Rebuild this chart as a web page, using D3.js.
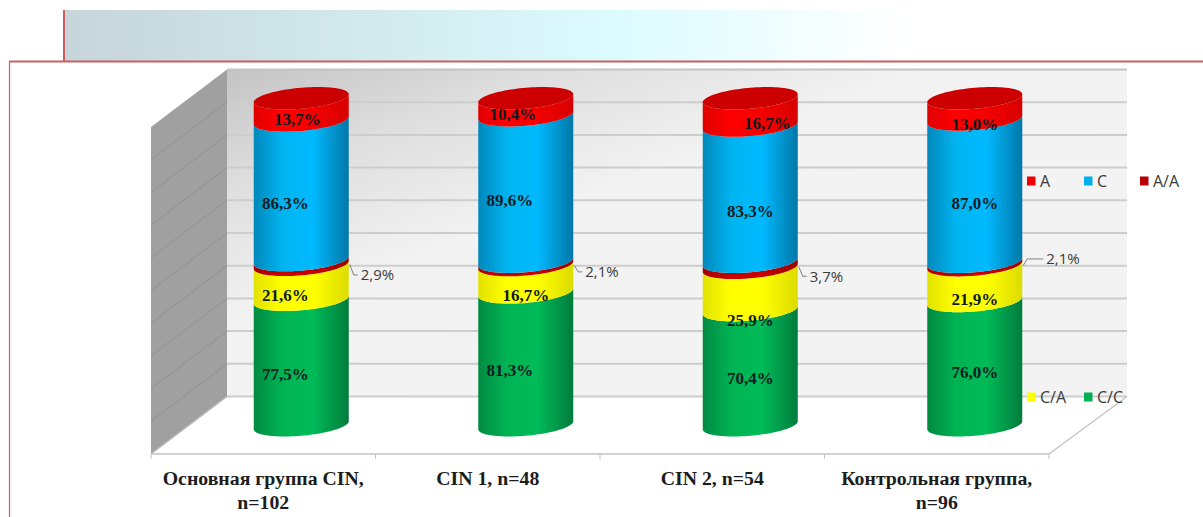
<!DOCTYPE html>
<html lang="ru">
<head>
<meta charset="utf-8">
<title>Генотипы и аллели по группам</title>
<script src="https://cdn.jsdelivr.net/npm/d3@7/dist/d3.min.js"></script>
<style>
html, body { margin: 0; padding: 0; background: #fff; }
svg { display: block; }
</style>
</head>
<body>
<svg id="chart" width="1203" height="517"></svg>
<script>
// Groups along the floor of the chart
const categories = [
  ["Основная группа CIN,", "n=102"],
  ["CIN 1, n=48"],
  ["CIN 2, n=54"],
  ["Контрольная группа,", "n=96"]
];

// Share of each genotype and allele per group, in percent (bottom to top)
const seriesKeys = ["C/C", "C/A", "A/A", "C", "A"];
const valuesCC = [77.5, 81.3, 70.4, 76.0];
const valuesCA = [21.6, 16.7, 25.9, 21.9];
const valuesAA = [2.9, 2.1, 3.7, 2.1];
const valuesC = [86.3, 89.6, 83.3, 87.0];
const valuesA = [13.7, 10.4, 16.7, 13.0];
const gridTicks = [0, .1, .2, .3, .4, .5, .6, .7, .8, .9, 1];

// Hand placement of the value labels relative to the centre of their segment
const nudgeCC = [[-16, 12], [-16, 11], [0, 11], [0, 9.5]];
const nudgeCA = [[-16, 13], [0, 16], [0, 31], [0, 16]];
const nudgeC = [[-16, 13], [-16, 12], [0, 18], [0, 13]];
const nudgeA = [[-4, 10], [-13, 7], [17, 11], [0, 15]];

const rows = categories.map((_, i) => ({
  "C/C": valuesCC[i], "C/A": valuesCA[i], "A/A": valuesAA[i], "C": valuesC[i], "A": valuesA[i]
}));
const stacked = d3.stack().keys(seriesKeys).offset(d3.stackOffsetExpand)(rows);

const svg = d3.select("#chart");
const defs = svg.append("defs");

// Box geometry: front plane, and the depth vector towards the back wall
const frontLeft = 151, frontRight = 1049, frontBottom = 454, frontTop = 127;
const depthX = 76, depthY = -57.5;

const x = d3.scaleBand().domain(d3.range(categories.length)).range([frontLeft, frontRight]);
const yFront = d3.scaleLinear().domain([0, 1]).range([frontBottom, frontTop]);
const yBack = v => yFront(v) + depthY;
// Columns stand half way into the box
const yMid = v => yFront(v) + depthY / 2;
const radiusX = 47.5, capMinor = 10.5, capShear = 4;

const shades = {
  "C/C": ["#008a42", "#00b353", "#00bb58", "#007c3c"],
  "C/A": ["#e2e200", "#ffff00", "#ffff00", "#dcdc00"],
  "A/A": ["#a80000", "#c80000", "#c80000", "#a00000"],
  "C":   ["#0088bb", "#00b4f0", "#00baff", "#0077a8"],
  "A":   ["#e00000", "#ff0000", "#f40000", "#d80000"]
};
seriesKeys.forEach((k, i) => {
  const g = defs.append("linearGradient").attr("id", "shade" + i);
  [0, .3, .62, 1].forEach((o, j) => g.append("stop").attr("offset", o).attr("stop-color", shades[k][j]));
});

const topBand = defs.append("linearGradient").attr("id", "topBand");
[[0, "#c6d5da"], [.3, "#d0e6ea"], [.65, "#dcfbff"], [1, "#ffffff"]].forEach(([o, c]) =>
  topBand.append("stop").attr("offset", o).attr("stop-color", c));

const wallFill = defs.append("linearGradient").attr("id", "wallFill")
  .attr("x1", 0).attr("y1", 0).attr("x2", .6).attr("y2", .6);
[[0, "#c4c4c4"], [.3, "#dedede"], [.65, "#f2f2f2"], [1, "#f3f3f3"]].forEach(([o, c]) =>
  wallFill.append("stop").attr("offset", o).attr("stop-color", c));

// Slide header band and its frame
svg.append("rect").attr("x", 65).attr("y", 10).attr("width", 845).attr("height", 51).attr("fill", "url(#topBand)");
const frame = svg.append("g").attr("stroke", "#c9605f").attr("fill", "none");
frame.append("line").attr("x1", 64).attr("x2", 64).attr("y1", 10).attr("y2", 62).attr("stroke-width", 2);
frame.append("line").attr("x1", 9).attr("x2", 1203).attr("y1", 61.5).attr("y2", 61.5).attr("stroke-width", 2);
frame.append("line").attr("x1", 9.5).attr("x2", 9.5).attr("y1", 62).attr("y2", 517).attr("stroke-width", 1.2);

// Back wall
const wallLeft = frontLeft + depthX, wallRight = frontRight + depthX + 2;
svg.append("rect")
  .attr("x", wallLeft).attr("y", yBack(1))
  .attr("width", wallRight - wallLeft).attr("height", yBack(0) - yBack(1))
  .attr("fill", "url(#wallFill)");

// Side wall
const line = d3.line();
svg.append("path")
  .attr("d", line([
    [frontLeft, yFront(1)], [wallLeft, yBack(1)], [wallLeft, yBack(0)], [frontLeft, yFront(0)]
  ]) + "Z")
  .attr("fill", "#a0a0a0");

// Gridlines run along the side wall and across the back wall
const grid = svg.append("g");
grid.selectAll("line.side").data(gridTicks.slice(0, -1)).join("line").attr("class", "side")
  .attr("x1", frontLeft).attr("x2", wallLeft)
  .attr("y1", d => yFront(d)).attr("y2", d => yBack(d))
  .attr("stroke", "#929292").attr("stroke-width", 1);
grid.selectAll("line.back").data(gridTicks).join("line").attr("class", "back")
  .attr("x1", wallLeft).attr("x2", wallRight)
  .attr("y1", d => yBack(d)).attr("y2", d => yBack(d))
  .attr("stroke", d => d === 1 ? "#c4c4c4" : "#cdcdcd").attr("stroke-width", 2);

// Floor edges and category ticks
const floor = svg.append("g").attr("stroke", "#c2c2c2").attr("fill", "none");
floor.append("line").attr("x1", frontLeft).attr("x2", frontRight)
  .attr("y1", frontBottom).attr("y2", frontBottom).attr("stroke-width", 1.5);
floor.append("line").attr("x1", frontRight).attr("x2", frontRight + depthX + 2)
  .attr("y1", frontBottom).attr("y2", frontBottom + depthY).attr("stroke-width", 1.2);
floor.append("line").attr("x1", frontLeft).attr("x2", wallLeft)
  .attr("y1", frontBottom).attr("y2", yBack(0)).attr("stroke-width", 1.2);
floor.selectAll("line.tick").data(d3.range(categories.length + 1)).join("line").attr("class", "tick")
  .attr("x1", d => frontLeft + d * x.bandwidth()).attr("x2", d => frontLeft + d * x.bandwidth())
  .attr("y1", frontBottom).attr("y2", frontBottom + 5);

// Outline of a tilted ellipse slice: the left rim sits lower than the right rim
const angles = d3.range(0, 1.0001, 1 / 48);
const rimFront = (cx, cy) => angles.map(t => {
  const a = Math.PI * t;
  const u = Math.cos(a);
  return [cx + radiusX * u, cy + capMinor * Math.sin(a) - capShear * u];
});
const rimBack = (cx, cy) => angles.map(t => {
  const a = Math.PI * t;
  const u = Math.cos(a);
  return [cx - radiusX * u, cy - capMinor * Math.sin(a) + capShear * u];
});

// Columns, segment by segment from the bottom up
const columns = svg.append("g");
categories.forEach((_, i) => {
  const cx = x(i) + x.bandwidth() / 2 + depthX / 2;
  stacked.forEach((layer, s) => {
    const lo = yMid(layer[i][0]), hi = yMid(layer[i][1]);
    columns.append("path")
      .attr("d", line([...rimFront(cx, lo), ...rimFront(cx, hi).reverse()]) + "Z")
      .attr("fill", `url(#shade${s})`);
  });
  const top = yMid(stacked[stacked.length - 1][i][1]);
  columns.append("path")
    .attr("d", line([...rimFront(cx, top), ...rimBack(cx, top)]) + "Z")
    .attr("fill", "#cc0000");
});

// Value labels inside the columns
const pct = v => d3.format(".1f")(v).replace(".", ",") + "%";
const labelled = [
  [0, valuesCC, nudgeCC], [1, valuesCA, nudgeCA], [3, valuesC, nudgeC], [4, valuesA, nudgeA]
];
const valueLabels = svg.append("g")
  .attr("font-family", "'Liberation Serif', serif").attr("font-weight", 700)
  .attr("font-size", 17).attr("text-anchor", "middle").attr("fill", "#0e1c22");
labelled.forEach(([s, values, nudge]) => {
  values.forEach((v, i) => {
    const cx = x(i) + x.bandwidth() / 2 + depthX / 2;
    const cy = yMid((stacked[s][i][0] + stacked[s][i][1]) / 2);
    valueLabels.append("text")
      .attr("x", cx + nudge[i][0]).attr("y", cy + nudge[i][1]).attr("dy", "0.34em")
      .text(pct(v));
  });
});

// The thin A/A band is labelled outside its column with a short leader
const leaderRise = [6, 2, 5, -11];
const outer = svg.append("g").attr("font-family", "'Open Sans', sans-serif")
  .attr("font-size", 15).attr("fill", "#3a3a3a");
valuesAA.forEach((v, i) => {
  const cx = x(i) + x.bandwidth() / 2 + depthX / 2;
  const cy = yMid((stacked[2][i][0] + stacked[2][i][1]) / 2);
  const ex = cx + radiusX;
  const ly = cy + capMinor - capShear + leaderRise[i];
  outer.append("path")
    .attr("d", `M${ex + 1},${cy - capShear + 6}L${ex + 5},${ly}L${ex + (i === 3 ? 21 : 9)},${ly}`)
    .attr("fill", "none").attr("stroke", "#7f7f7f").attr("stroke-width", 1);
  outer.append("text").attr("x", ex + (i === 3 ? 24 : 12)).attr("y", ly).attr("dy", "0.36em").text(pct(v));
});

// Category labels
const catLabels = svg.append("g")
  .attr("font-family", "'Liberation Serif', serif").attr("font-weight", 700)
  .attr("font-size", 19.8).attr("text-anchor", "middle").attr("fill", "#1c1c1c");
categories.forEach((lines, i) => {
  lines.forEach((t, j) => {
    catLabels.append("text")
      .attr("x", x(i) + x.bandwidth() / 2).attr("y", 478 + j * 24).attr("dy", "0.34em").text(t);
  });
});

// Legend: two rows flanking the last column
const legendColors = { "A": "#f00000", "C": "#00aee8", "A/A": "#b80000", "C/A": "#ffff00", "C/C": "#00b050" };
const legendRows = [
  { y: 181, items: ["A", "C", "A/A"] },
  { y: 397, items: ["C/A", "C/C"] }
];
const legendX = [1027, 1084, 1140];
const legend = svg.append("g").attr("font-family", "'Open Sans', sans-serif")
  .attr("font-size", 16).attr("fill", "#3a3a3a");
legendRows.forEach(row => {
  row.items.forEach((k, i) => {
    legend.append("rect").attr("x", legendX[i]).attr("y", row.y - 4.5).attr("width", 8.5).attr("height", 9)
      .attr("fill", legendColors[k]);
    legend.append("text").attr("x", legendX[i] + 13).attr("y", row.y).attr("dy", "0.36em").text(k);
  });
});
</script>
</body>
</html>
